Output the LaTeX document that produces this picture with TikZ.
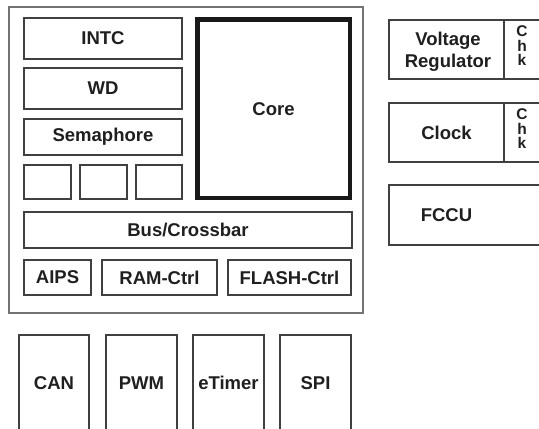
\documentclass[tikz,border=0pt]{standalone}
\usepackage{fontspec}
\setmainfont{Liberation Sans}
\begin{document}
\begin{tikzpicture}[x=1pt,y=-1pt,
  blk/.style={draw=black!75,line width=1.1pt,fill=white},
  lbl/.style={inner sep=0pt,font=\fontsize{18.5}{20}\selectfont\bfseries,align=center,text=black!88},
  outer/.style={draw=black!55,line width=1.1pt},
  chk/.style={font=\fontsize{15.5}{16}\selectfont\bfseries,inner sep=0pt,anchor=base,text=black!88}]
\useasboundingbox (0,0) rectangle (539,429);
\begin{scope}
\clip (0,0) rectangle (539,429);
% outer MCU box
\draw[outer] (9,7) rectangle (363,313);
% left column
\draw[blk] (24,18) rectangle (182,59);
\node[lbl] (intc) at (103,38.5) {INTC};
\draw[blk] (24,68) rectangle (182,109);
\node[lbl] (wd) at (103,88.5) {WD};
\draw[blk] (24,119) rectangle (182,155);
\node[lbl] (sema) at (103,137) {Semaphore};
\draw[blk] (24,165) rectangle (71,199);
\draw[blk] (80,165) rectangle (127,199);
\draw[blk] (136,165) rectangle (182,199);
% core
\draw[draw=black!90,line width=4.5pt] (197.25,19.25) rectangle (349.75,197.75);
\node[lbl] (core) at (273.5,109) {Core};
% bus
\draw[blk] (24,212) rectangle (352,248);
\node[lbl] (bus) at (188,230) {Bus/Crossbar};
\draw[blk] (24,260) rectangle (91,295);
\node[lbl] (aips) at (57.5,277.5) {AIPS};
\draw[blk] (102,260) rectangle (217,295);
\node[lbl] (ram) at (159.5,277.5) {RAM-Ctrl};
\draw[blk] (228,260) rectangle (351,295);
\node[lbl] (flash) at (289.5,277.5) {FLASH-Ctrl};
% right column
\draw[blk] (389,20) rectangle (545,79);
\node[lbl,anchor=base] (vr1) at (448,45) {Voltage};
\node[lbl,anchor=base] (vr2) at (448,67) {Regulator};
\draw[draw=black!75,line width=1.1pt] (504,20) -- (504,79);
\node[chk] (c1) at (522,36.5) {C};
\node[chk] (h1) at (522,51) {h};
\node[chk] (k1) at (522,65.5) {k};
\draw[blk] (389,103) rectangle (545,162);
\node[lbl] (clk) at (446.5,132.5) {Clock};
\draw[draw=black!75,line width=1.1pt] (504,103) -- (504,162);
\node[chk] (c2) at (522,119.5) {C};
\node[chk] (h2) at (522,134) {h};
\node[chk] (k2) at (522,148.5) {k};
\draw[blk] (389,185) rectangle (545,245);
\node[lbl] (fccu) at (446.5,215) {FCCU};
% peripherals
\draw[blk] (19,335) rectangle (89,440);
\node[lbl] (can) at (54,383) {CAN};
\draw[blk] (106,335) rectangle (177,440);
\node[lbl] (pwm) at (141.5,383) {PWM};
\draw[blk] (193,335) rectangle (264,440);
\node[lbl] (etimer) at (228.5,383) {eTimer};
\draw[blk] (280,335) rectangle (351,440);
\node[lbl] (spi) at (315.5,383) {SPI};
\end{scope}
\end{tikzpicture}
\end{document}
